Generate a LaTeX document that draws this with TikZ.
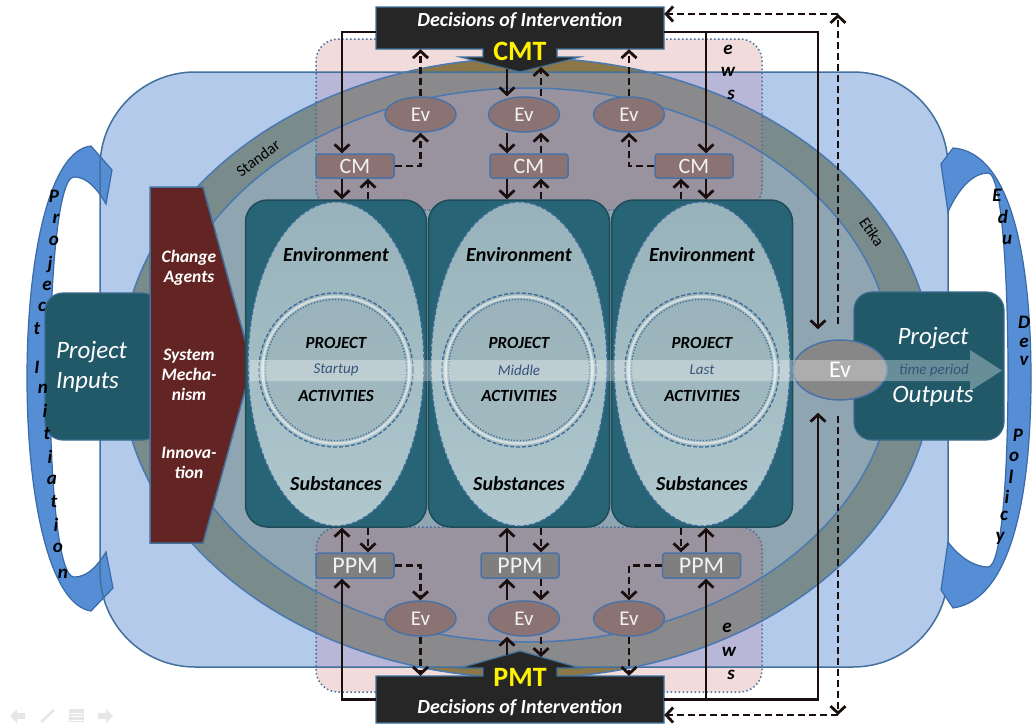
\documentclass[tikz,border=0pt]{standalone}
\usepackage{fontspec}
\setmainfont{Carlito}
\usetikzlibrary{arrows.meta,shapes.geometric,calc}
\newcommand\fsz[1]{\fontsize{#1}{#1}\selectfont}
\definecolor{bluerect}{HTML}{B3CAEA}
\definecolor{blueline}{HTML}{41719C}
\definecolor{ellline}{HTML}{4A78B0}
\definecolor{ringc}{HTML}{7A8B8C}
\definecolor{innerc}{HTML}{8FA6B2}
\definecolor{pinkc}{HTML}{F2DCDB}
\definecolor{lavc}{HTML}{B9B7D8}
\definecolor{ringpk}{HTML}{8A898C}
\definecolor{innerpk}{HTML}{99939F}
\definecolor{tanc}{HTML}{8C7748}
\definecolor{crescent}{HTML}{558ED5}
\definecolor{crescentline}{HTML}{3A6AA8}
\definecolor{tealdark}{HTML}{215968}
\definecolor{tealline}{HTML}{3A6A8E}
\definecolor{maroon}{HTML}{632523}
\definecolor{boxteal}{HTML}{276475}
\definecolor{boxline}{HTML}{1F4B5A}
\definecolor{elltop}{HTML}{97B2BA}
\definecolor{ellbot}{HTML}{AFC7CD}
\definecolor{circtop}{HTML}{9AB3BA}
\definecolor{circbot}{HTML}{A2BAC0}
\definecolor{mauve}{HTML}{8B7374}
\definecolor{grayc}{HTML}{7F7F7F}
\definecolor{evgray}{HTML}{878787}
\definecolor{nodeline}{HTML}{4A72A5}
\definecolor{arrowc}{HTML}{1A0E0E}
\definecolor{decbox}{HTML}{262626}
\definecolor{dashblue}{HTML}{3C6A9A}
\definecolor{bandtext}{HTML}{35557A}
\definecolor{txtlight}{HTML}{F2F2F2}
\definecolor{navc}{HTML}{E6E6E6}
\begin{document}
\begin{tikzpicture}[x=1pt,y=-1pt,
  sarr/.style={draw=arrowc,line width=2.8pt,-{Straight Barb[length=7pt,width=15pt]}},
  darr/.style={sarr,dash pattern=on 7pt off 4pt},
  evnode/.style={ellipse,draw=nodeline,line width=1.5pt,fill=mauve,minimum width=71pt,minimum height=35pt,inner sep=0pt,text=txtlight,font=\fsz{21}},
  cmnode/.style={rectangle,rounded corners=3pt,draw=nodeline,line width=1.5pt,fill=mauve,minimum width=78pt,minimum height=24pt,inner sep=0pt,text=txtlight,font=\fsz{22}},
  ppmnode/.style={cmnode,fill=grayc,minimum height=25pt,font=\fsz{24}},
  stagebox/.style={rectangle,rounded corners=22pt,draw=boxline,line width=1.5pt,fill=boxteal,minimum width=181pt,minimum height=327pt,inner sep=0pt},
  anchorbox/.style={rectangle,minimum width=288pt,inner sep=0pt},
  callout/.style={fill=decbox,draw=blueline,line width=1.2pt},
  boxtxt/.style={font=\fsz{20}\bfseries\itshape,text=black},
  projtxt/.style={font=\fsz{17}\bfseries\itshape,text=black},
  phasetxt/.style={font=\fsz{15}\itshape,text=bandtext},
  arcletter/.style={font=\fsz{19}\bfseries\itshape,text=black,inner sep=0pt},
  pentxt/.style={font=\fontsize{17.5}{20}\selectfont\bfseries\itshape,text=white,align=center,inner sep=0pt},
  pinkregion/.style={draw=blueline,line width=1.5pt,dash pattern=on 1.5pt off 2.5pt,rounded corners=22pt},
  dectxt/.style={font=\fsz{20}\bfseries\itshape,text=white},
  mtxt/.style={font=\fsz{28}\bfseries,text=yellow,inner sep=0pt},
]
\useasboundingbox (0,0) rectangle (1033,726);
\fill[white] (0,0) rectangle (1033,726);

% big background shape
\fill[bluerect,rounded corners=95pt] (100,72) rectangle (948,667);

% left crescent
\draw[fill=crescent,draw=crescentline,line width=1.2pt] (91,146) -- (112,170) -- (106,204) .. controls (95,185) and (85,177) .. (74,177) .. controls (58,177) and (50,280) .. (50,378) .. controls (50,480) and (58,577) .. (74,577) .. controls (85,577) and (95,570) .. (106,552) -- (113,588) -- (91,611) .. controls (50,605) and (27,500) .. (27,378) .. controls (27,255) and (50,150) .. (91,146) -- cycle;

% ring and inner ellipse
\fill[ringc] (527,368) ellipse [x radius=406pt, y radius=310pt];
\fill[innerc] (527,365) ellipse [x radius=366pt, y radius=277pt];

% pink overlays
\foreach \ya/\yb in {39/210,527/692}{
\begin{scope}
  \clip[rounded corners=22pt] (316,\ya) rectangle (762,\yb);
  \fill[pinkc] (316,\ya) rectangle (762,\yb);
  \fill[tanc] (527,368) ellipse [x radius=406pt, y radius=310pt];
  \begin{scope}
    \clip[rounded corners=95pt] (100,72) rectangle (948,667);
    \fill[lavc] (100,72) rectangle (948,667);
    \fill[ringpk] (527,368) ellipse [x radius=406pt, y radius=310pt];
    \fill[innerpk] (527,365) ellipse [x radius=366pt, y radius=277pt];
  \end{scope}
\end{scope}
}

% borders
\draw[blueline,line width=1.5pt,rounded corners=95pt] (100,72) rectangle (948,667);
\draw[ellline,line width=1.5pt] (527,368) ellipse [x radius=406pt, y radius=310pt];
\draw[ellline,line width=1.5pt] (527,365) ellipse [x radius=366pt, y radius=277pt];
\draw[pinkregion] (316,39) rectangle (762,210);
\draw[pinkregion] (316,527) rectangle (762,692);

% ring labels
\node[font=\fsz{16},rotate=37,inner sep=0pt] (stdlbl) at (258,158) {Standar};
\node[font=\fsz{16},rotate=-56,inner sep=0pt] (etlbl) at (872,232) {Etika};
\node[arcletter] at (728,50) {e};
\node[arcletter] at (728,72) {w};
\node[arcletter] at (731,95) {s};
\node[arcletter] at (727,628) {e};
\node[arcletter] at (729,652) {w};
\node[arcletter] at (731,675) {s};

% project inputs and pentagon
\node[rectangle,rounded corners=18pt,fill=tealdark,draw=tealline,line width=1.2pt,minimum width=115pt,minimum height=147pt,text width=93pt,align=left,font=\fontsize{25}{30}\selectfont\itshape,text=white,inner sep=0pt] (pin) at (102.5,366.5) {Project\\Inputs};
\draw[fill=maroon,draw=blueline,line width=1.5pt] (150,187) -- (203,187) -- (252,365) -- (203,543) -- (150,543) -- cycle;
\node[pentxt] (ca) at (189,268) {Change\\Agents};
\node[pentxt] (sm) at (189,375) {System\\Mecha-\\nism};
\node[pentxt] (inn) at (189,463) {Innova-\\tion};

% stage boxes
\foreach \i/\cx in {1/336,2/519,3/702}{
  \node[stagebox] (box\i) at (\cx,363.5) {};
  \shade[top color=elltop,bottom color=ellbot] (\cx,364) ellipse [x radius=88pt,y radius=162pt];
  \draw[dashblue,line width=1.3pt,dash pattern=on 4pt off 2pt] (\cx,364) ellipse [x radius=88pt,y radius=162pt];
  \shade[top color=circtop,bottom color=circbot] (\cx,370) circle [radius=77pt];
  \draw[dashblue,line width=1.3pt,dash pattern=on 4pt off 2pt] (\cx,370) circle [radius=77pt];
  \draw[white,opacity=0.55,line width=2.5pt] (\cx,370) circle [radius=73.5pt];
  \draw[dashblue,line width=1.2pt,dash pattern=on 1.2pt off 1.8pt] (\cx,370) circle [radius=70.5pt];
  \node[boxtxt] at (\cx,255) {Environment};
  \node[projtxt] at (\cx,343) {PROJECT};
  \node[projtxt] at (\cx,396) {ACTIVITIES};
  \node[boxtxt] at (\cx,484) {Substances};
}

% project outputs and final Ev
\node[rectangle,rounded corners=18pt,fill=tealdark,draw=tealline,line width=1.2pt,minimum width=150pt,minimum height=148pt] (pout) at (929,366) {};
\node[font=\fsz{25}\itshape,text=white] at (933,338) {Project};
\node[font=\fsz{25}\itshape,text=white] at (933,396) {Outputs};
\node[ellipse,fill=evgray,draw=nodeline,line width=1.5pt,minimum width=94pt,minimum height=60pt,inner sep=0pt,text=white,font=\fsz{24}] (evr) at (840,370) {Ev};

% time period band
\fill[white,fill opacity=0.32] (250,360) -- (970,360) -- (970,350) -- (1002,370.5) -- (970,391) -- (970,381) -- (250,381) -- cycle;
\node[phasetxt] at (336,370) {Startup};
\node[phasetxt] at (519,370) {Middle};
\node[phasetxt] at (702,370) {Last};
\node[phasetxt] at (934,370) {time period};

% right crescent
\draw[fill=crescent,draw=crescentline,line width=1.2pt] (953,148) -- (941,164) -- (948,212) .. controls (960,185) and (975,173) .. (988,173) .. controls (1002,173) and (1008,280) .. (1008,375) .. controls (1008,470) and (1002,567) .. (988,567) .. controls (975,567) and (960,558) .. (948,542) -- (941,590) -- (953,608) .. controls (1010,600) and (1031,500) .. (1031,378) .. controls (1031,255) and (1010,152) .. (953,148) -- cycle;

% crescent letters
\foreach \ch/\px/\py in {P/54/196,r/56/219,o/54/241,j/50/264,e/47/286,c/42/307,t/37/329,I/37/367,n/43/389,i/45/411,t/47/434,i/50/457,a/52/480,t/54/502,i/56/525,o/58/548,n/63/574}{
  \node[arcletter] at (\px,\py) {\ch};
}
\foreach \ch/\px/\py in {E/997/195,d/1003/217,u/1007/240,D/1024/322,e/1024/343,v/1024/361,P/1018/435,o/1014/457,l/1011/477,i/1007/497,c/1004/516,y/1000/538}{
  \node[arcletter] at (\px,\py) {\ch};
}

% callouts
\draw[callout] (376,7) -- (664,7) -- (664,49) -- (557,49) -- (557,57) -- (580,57) -- (520,72) -- (460,57) -- (483,57) -- (483,49) -- (376,49) -- cycle;
\node[anchorbox,minimum height=42pt] (dect) at (520,28) {};
\node[dectxt] at (520,21) {Decisions of Intervention};
\node[mtxt] (cmt) at (520,51) {CMT};
\draw[callout] (376,723) -- (664,723) -- (664,676) -- (557,676) -- (557,668) -- (580,668) -- (520,651) -- (460,668) -- (483,668) -- (483,676) -- (376,676) -- cycle;
\node[anchorbox,minimum height=47pt] (pmtb) at (520,699.5) {};
\node[dectxt] at (520,708) {Decisions of Intervention};
\node[mtxt] (pmt) at (520,677) {PMT};
\coordinate (cmttip) at (520,72);
\coordinate (pmttip) at (520,651);

% CM / Ev / PPM nodes
\node[cmnode] (cm1) at (355,166) {CM};
\node[cmnode] (cm2) at (529,166) {CM};
\node[cmnode] (cm3) at (694,166) {CM};
\node[evnode] (ev1) at (420.5,114.5) {Ev};
\node[evnode] (ev2) at (524,114.5) {Ev};
\node[evnode] (ev3) at (629,114.5) {Ev};
\node[ppmnode] (ppm1) at (355,565.5) {PPM};
\node[ppmnode] (ppm2) at (520,565.5) {PPM};
\node[ppmnode] (ppm3) at (701.5,565.5) {PPM};
\node[evnode] (ev4) at (420.5,618.5) {Ev};
\node[evnode] (ev5) at (524,618.5) {Ev};
\node[evnode] (ev6) at (629,618.5) {Ev};

% column coordinates
\coordinate (c1s) at (342,0); \coordinate (c1d) at (368,0);
\coordinate (c2s) at (507,0); \coordinate (c2d) at (541,0);
\coordinate (c3d) at (681,0); \coordinate (c3s) at (706,0);
\coordinate (rs) at (818,0); \coordinate (rd) at (838,0);
\coordinate (rdT) at (838,14); \coordinate (rdB) at (838,715);

% top connectors
\draw[sarr] ([yshift=-4pt]dect.west) -| (cm1.north -| c1s);
\draw[sarr] ([yshift=-4pt]dect.east) -| (cm3.north -| c3s);
\draw[sarr,shorten >=10pt] ([yshift=-4pt]dect.east) -| (evr.north -| rs);
\draw[darr] (cm1.east) -| (ev1.south);
\draw[darr] (ev1.north) -- (ev1.north |- dect.south);
\draw[sarr] ($(cmttip)+(-13,-3)$) -- (ev2.north -| c2s);
\draw[darr] (ev2.north -| c2d) -- ($(cmttip)+(21,-5)$);
\draw[sarr] (ev2.south -| c2s) -- (cm2.north -| c2s);
\draw[darr] (cm2.north -| c2d) -- (ev2.south -| c2d);
\draw[darr] (cm3.west) -| (ev3.south);
\draw[darr] (ev3.north) -- (ev3.north |- dect.south);
\draw[sarr] (cm1.south -| c1s) -- (box1.north -| c1s);
\draw[darr] (box1.north -| c1d) -- (cm1.south -| c1d);
\draw[sarr] (cm2.south -| c2s) -- (box2.north -| c2s);
\draw[darr] (box2.north -| c2d) -- (cm2.south -| c2d);
\draw[sarr] (cm3.south -| c3s) -- (box3.north -| c3s);
\draw[darr] (box3.north -| c3d) -- (cm3.south -| c3d);
\draw[darr,shorten <=15pt] (evr.north -| rd) -- (rdT);
\draw[darr] (rdT) -- (rdT -| dect.east);

% bottom connectors
\draw[sarr] (pmtb.west) -| (ppm1.south -| c1s);
\draw[sarr] (pmtb.east) -| (ppm3.south -| c3s);
\draw[sarr,shorten >=12pt] (pmtb.east) -| (evr.south -| rs);
\draw[sarr] (ppm1.north -| c1s) -- (box1.south -| c1s);
\draw[darr] (box1.south -| c1d) -- (ppm1.north -| c1d);
\draw[darr] (ppm1.east) -| (ev4.north);
\draw[darr] (ev4.south) -- (ev4.south |- pmtb.north);
\draw[sarr] (ppm2.north -| c2s) -- (box2.south -| c2s);
\draw[darr] (box2.south -| c2d) -- (ppm2.north -| c2d);
\draw[sarr] (ev5.north -| c2s) -- (ppm2.south -| c2s);
\draw[darr] (ppm2.south -| c2d) -- (ev5.north -| c2d);
\draw[sarr] ($(pmttip)+(-13,4)$) -- (ev5.south -| c2s);
\draw[darr] (ev5.south -| c2d) -- ($(pmttip)+(21,6)$);
\draw[darr] (ppm3.west) -| (ev6.north);
\draw[darr] (ev6.south) -- (ev6.south |- pmtb.north);
\draw[darr] (box3.south -| c3d) -- (ppm3.north -| c3d);
\draw[sarr] (ppm3.north -| c3s) -- (box3.south -| c3s);
\draw[darr,shorten <=15pt] (evr.south -| rd) -- (rdB);
\draw[darr] (rdB) -- (rdB -| pmtb.east);

% faint slide navigation icons
\fill[navc] (10,716) -- (17,709) -- (17,713) -- (25,713) -- (25,719) -- (17,719) -- (17,723) -- cycle;
\draw[navc,line width=2.5pt] (41,722) -- (54,710);
\fill[navc] (69,709) rectangle (84,722);
\draw[white,line width=0.8pt] (70,713) -- (83,713) (70,716.5) -- (83,716.5) (70,720) -- (83,720);
\fill[navc] (98,713) -- (106,713) -- (106,709) -- (113,716) -- (106,723) -- (106,719) -- (98,719) -- cycle;
\end{tikzpicture}
\end{document}
